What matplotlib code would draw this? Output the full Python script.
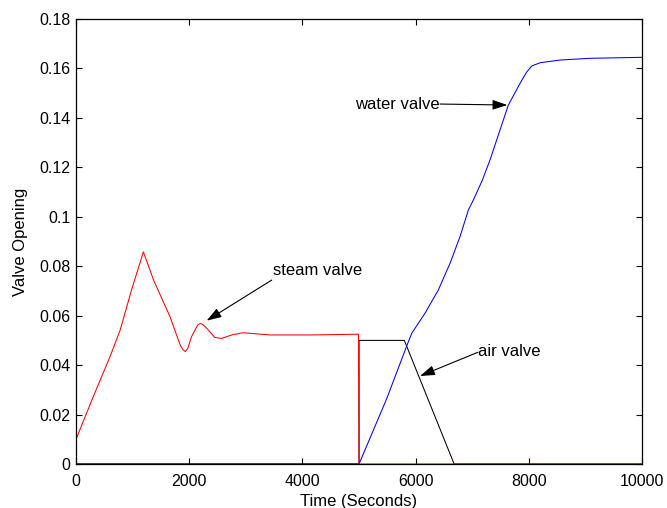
import numpy as np
import matplotlib
matplotlib.use('Agg')
import matplotlib.pyplot as plt

plt.rcParams['font.family'] = ['Liberation Sans', 'DejaVu Sans']

# steam valve (red)
steam_t = [0, 300, 600, 780, 980, 1190, 1370, 1660, 1840, 1890, 1930, 1975, 2040, 2150, 2190, 2230,
           2310, 2450, 2570, 2750, 2950, 3430, 4130, 4990, 5000, 10000]
steam_v = [0.010, 0.027, 0.0434, 0.0542, 0.0704, 0.0858, 0.0744, 0.0596, 0.0481, 0.0462, 0.0455, 0.0468,
           0.0515, 0.0562, 0.0568, 0.0566, 0.0549, 0.0512, 0.0508, 0.0522, 0.0531, 0.0522, 0.0522, 0.0525, 0, 0]

# water valve (blue)
water_t = [0, 5000, 5490, 5860, 5931, 6166, 6401, 6608, 6784, 6931, 7020, 7180, 7314, 7638, 7845,
           7960, 8051, 8198, 8551, 9081, 10000]
water_v = [0, 0, 0.0265, 0.0488, 0.0529, 0.0610, 0.0704, 0.0812, 0.0920, 0.1027, 0.1068, 0.1149, 0.1230,
           0.1452, 0.1540, 0.1585, 0.1610, 0.1623, 0.1634, 0.1641, 0.1645]

# air valve (black)
air_t = [0, 5000, 5000, 5800, 6680, 10000]
air_v = [0, 0, 0.050, 0.050, 0, 0]

fig = plt.figure(figsize=(6.67, 5.08), dpi=100)
ax = fig.add_axes([0.114, 0.0866, 0.8486, 0.876])

ax.plot(air_t, air_v, color='k', lw=0.75)
ax.plot(water_t, water_v, color='b', lw=0.75)
ax.plot(steam_t, steam_v, color='r', lw=0.75)

ax.set_xlim(0, 10000)
ax.set_ylim(0, 0.18)
ax.set_xticks(np.arange(0, 10001, 2000))
ax.set_yticks(np.arange(0, 0.181, 0.02))
ax.set_yticklabels(['0', '0.02', '0.04', '0.06', '0.08', '0.1', '0.12', '0.14', '0.16', '0.18'])
ax.tick_params(direction='in', length=4, width=0.8, top=True, right=True, labelsize=11.5, pad=4)
ax.tick_params(axis='x', pad=7)
for s in ax.spines.values():
    s.set_linewidth(0.9)

ax.set_xlabel('Time (Seconds)', fontsize=12, labelpad=4)
ax.set_ylabel('Valve Opening', fontsize=12, labelpad=8)

arrow = dict(arrowstyle='-|>,head_length=0.9,head_width=0.3', color='k', lw=0.8, shrinkA=0, shrinkB=0)

ax.annotate('', xy=(7620, 0.1452), xytext=(6431, 0.1456), arrowprops=arrow)
ax.text(6431, 0.1456, 'water valve', ha='right', va='center', fontsize=12)

ax.annotate('', xy=(2308, 0.0580), xytext=(3457, 0.0744), arrowprops=arrow)
ax.text(3480, 0.0781, 'steam valve', ha='left', va='center', fontsize=12)

ax.annotate('', xy=(6078, 0.0356), xytext=(7100, 0.0452), arrowprops=arrow)
ax.text(7110, 0.0455, 'air valve', ha='left', va='center', fontsize=12)

fig.savefig('out.png', dpi=100)
